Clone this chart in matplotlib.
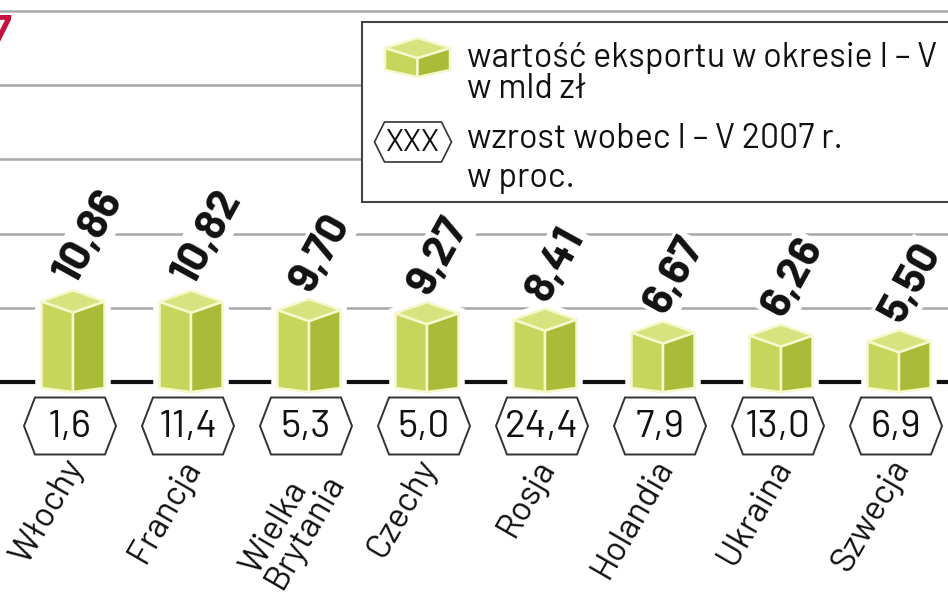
import matplotlib
matplotlib.use('Agg')
import matplotlib.pyplot as plt
from matplotlib import font_manager as fm
from matplotlib.patches import Polygon, Rectangle

countries = ['Włochy', 'Francja', 'Wielka\nBrytania', 'Czechy', 'Rosja', 'Holandia', 'Ukraina', 'Szwecja']
export_value = [10.86, 10.82, 9.70, 9.27, 8.41, 6.67, 6.26, 5.50]
growth_pct = [1.6, 11.4, 5.3, 5.0, 24.4, 7.9, 13.0, 6.9]
grid_values = [0, 10, 20, 30, 40, 50]

W, H = 948, 593
fig = plt.figure(figsize=(W / 100, H / 100), dpi=100)
ax = fig.add_axes([0, 0, 1, 1])
ax.set_axis_off()

X0, DX = 73, 118      # first bar centre, spacing (px)
Y0, DY = 382, 7.42    # baseline, px per unit
ax.set_xlim(-X0 / DX, (W - X0) / DX)
ax.set_ylim(-(H - Y0) / DY, Y0 / DY)

names = {f.name for f in fm.fontManager.ttflist}
FONT = next((n for n in ['Barlow', 'Roboto'] if n in names), 'DejaVu Sans')

def px(v):
    return v / DX

def py(v):
    return v / DY

for g in grid_values[1:]:
    ax.axhline(g, color='#a8a8a8', lw=1.8, zorder=1)
ax.axhline(0, color='#111111', lw=3, zorder=1)

LEFT, RIGHT, TOP, EDGE = '#c6d65c', '#a8bc3a', '#d6e37e', '#f6f8cc'

def cube(xc, top, bottom, hw, d, db, tr=None, halo=True, z=5):
    kw = {} if tr is None else {'transform': tr}
    left = [(xc - hw, top), (xc, top - d), (xc, bottom - db), (xc - hw, bottom)]
    right = [(xc, top - d), (xc + hw, top), (xc + hw, bottom), (xc, bottom - db)]
    topf = [(xc - hw, top), (xc, top + d), (xc + hw, top), (xc, top - d)]
    sil = [(xc - hw, top), (xc, top + d), (xc + hw, top), (xc + hw, bottom), (xc, bottom - db), (xc - hw, bottom)]
    if halo:
        ax.add_patch(Polygon(sil, closed=True, facecolor='white', edgecolor='white', lw=9, zorder=z - 1, **kw))
    for pts, c in ((left, LEFT), (right, RIGHT), (topf, TOP)):
        ax.add_patch(Polygon(pts, closed=True, facecolor=c, edgecolor=EDGE, lw=1.8, zorder=z,
                             joinstyle='round', **kw))

def hexagon(xc, yc, hw, hh, tip, tr=None, lw=1.4, z=4):
    kw = {} if tr is None else {'transform': tr}
    pts = [(xc - hw, yc), (xc - hw + tip, yc + hh), (xc + hw - tip, yc + hh),
           (xc + hw, yc), (xc + hw - tip, yc - hh), (xc - hw + tip, yc - hh)]
    ax.add_patch(Polygon(pts, closed=True, facecolor='white', edgecolor='#333333', lw=lw, zorder=z, **kw))

fmt2 = lambda v: f'{v:.2f}'.replace('.', ',')
fmt1 = lambda v: f'{v:.1f}'.replace('.', ',')

for i, (c, v, g) in enumerate(zip(countries, export_value, growth_pct)):
    d = py(11)
    cube(i, v, py(-6), px(31.5), d, py(4))
    ax.text(i + px(2), v + d + py(5), fmt2(v), rotation=61, rotation_mode='anchor',
            ha='left', va='baseline', fontsize=31.5, fontweight='bold', family=FONT,
            color='#111111', zorder=3,
            bbox=dict(facecolor='white', edgecolor='none', pad=2))
    hy = py(-44)
    hx = i - px(3)
    hexagon(hx, hy, px(46), py(28.5), px(11))
    ax.text(hx, hy - py(1), fmt1(g), ha='center', va='center', fontsize=28, family=FONT,
            color='#111111', zorder=5)
    ax.text(i - px(11), py(-72), c, rotation=60, rotation_mode='anchor', ha='right', va='top',
            multialignment='left', fontsize=25, family=FONT, color='#111111', zorder=5,
            linespacing=0.9)

ax.text(9 / W, 1 - 15 / H, '7', transform=fig.transFigure, ha='right', va='top',
        fontsize=29, fontweight='bold', fontstyle='italic', color='#c4123f', family=FONT)

ft = fig.transFigure
def F(x, y):
    return (x / W, 1 - y / H)

lx0, ly0 = F(362, 202)
lx1, ly1 = F(960, 22)
ax.add_patch(Rectangle((lx0, ly0), lx1 - lx0, ly1 - ly0, transform=ft, facecolor='white',
                       edgecolor='#444444', lw=1.5, zorder=6))

def cube_fig(xc, ytop, ybot, hw, d, db):
    xcf, tf = F(xc, ytop)
    _, bf = F(xc, ybot)
    cube(xcf, tf, bf, hw / W, d / H, db / H, tr=ft, halo=False, z=7)

cube_fig(417.5, 48, 70, 32.5, 10, 7)
hexagon(*F(413, 142), 38.5 / W, 20 / H, 10 / W, tr=ft, lw=1.2, z=7)
ax.text(*F(413, 143), 'XXX', transform=ft, ha='center', va='center', fontsize=22,
        family=FONT, color='#111111', zorder=8)

leg_lines = [('wartość eksportu w okresie I – V', 67), ('w mld zł', 98),
             ('wzrost wobec I – V 2007 r.', 148), ('w proc.', 187)]
for t, yb in leg_lines:
    ax.text(*F(467, yb), t, transform=ft, ha='left', va='baseline', fontsize=24.5,
            family=FONT, color='#111111', zorder=8)

fig.savefig('out.png', dpi=100)
